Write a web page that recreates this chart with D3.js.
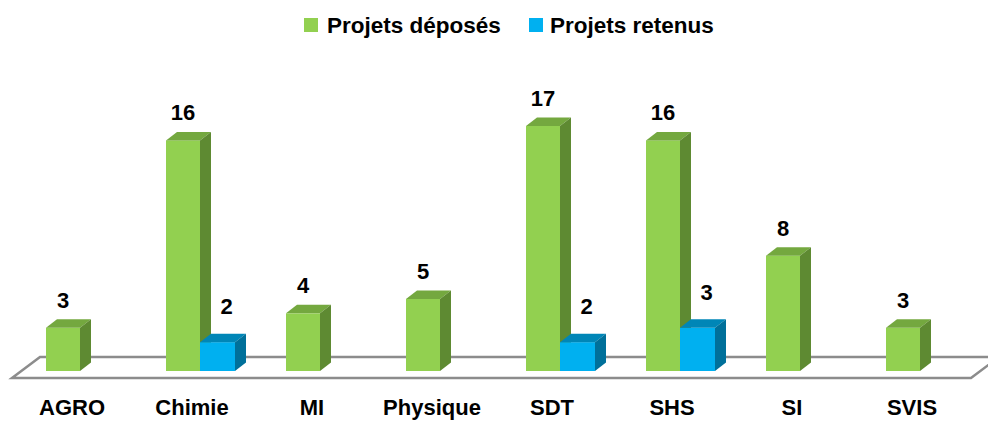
<!DOCTYPE html>
<html><head><meta charset="utf-8">
<script src="https://cdn.jsdelivr.net/npm/d3@7"></script>
<style>html,body{margin:0;padding:0;background:#fff;overflow:hidden}</style>
</head><body>
<svg id="chart" width="988" height="421"></svg>
<script>
const categories = ["AGRO","Chimie","MI","Physique","SDT","SHS","SI","SVIS"];
const deposes = [3,16,4,5,17,16,8,3];
const retenus = [0,2,0,0,2,3,0,0];
const seriesNames = ["Projets déposés","Projets retenus"];

const svg = d3.select("#chart");
const font = "'Liberation Sans', Arial, sans-serif";

const x = d3.scaleBand().domain(categories).range([12, 972]).padding(0);
const y = d3.scaleLinear().domain([0, 17]).range([371, 126]);
const DX = 11, DY = 8.5;

const colors = {
  green: {front:"#92D050", top:"#74A83F", side:"#5E8A32"},
  blue:  {front:"#00B0F0", top:"#0086B7", side:"#00709A"}
};

// floor
svg.append("path")
  .attr("d", "M12,378 L971,378 L999,357 L40,357 Z")
  .attr("fill", "none").attr("stroke", "#8c8c8c").attr("stroke-width", 2.5)
  .attr("stroke-linejoin", "miter");

function bar3d(g, x0, w, v, c) {
  const yt = y(v), yb = y(0);
  g.append("rect").attr("x", x0).attr("y", yt).attr("width", w).attr("height", yb - yt).attr("fill", c.front);
  g.append("path").attr("d", `M${x0},${yt} L${x0+DX},${yt-DY} L${x0+w+DX},${yt-DY} L${x0+w},${yt} Z`).attr("fill", c.top);
  g.append("path").attr("d", `M${x0+w},${yt} L${x0+w+DX},${yt-DY} L${x0+w+DX},${yb-DY} L${x0+w},${yb} Z`).attr("fill", c.side);
}

const bars = svg.append("g");
const labels = svg.append("g").attr("font-family", font).attr("font-weight", "bold").attr("font-size", 22).attr("fill", "#000").attr("text-anchor", "middle");

categories.forEach((cat, i) => {
  const c = x(cat) + x.bandwidth() / 2;
  const g = bars.append("g");
  const gx = c - 26, gw = 34;
  const bx = c + 8, bw = 35;
  bar3d(g, gx, gw, deposes[i], colors.green);
  labels.append("text").attr("x", gx + gw / 2).attr("y", y(deposes[i]) - 20).text(deposes[i]);
  if (retenus[i] > 0) {
    bar3d(g, bx, bw, retenus[i], colors.blue);
    labels.append("text").attr("x", bx + bw / 2 + 9).attr("y", y(retenus[i]) - 28).text(retenus[i]);
  }
});

// category axis labels
const axis = d3.axisBottom(x).tickSize(0).tickPadding(0);
const ax = svg.append("g").attr("transform", "translate(0,399.5)").call(axis);
ax.select(".domain").remove();
ax.selectAll("text").attr("font-family", font).attr("font-weight", "bold").attr("font-size", 22).attr("fill", "#000").attr("dy", "0.71em");

// legend
const legend = svg.append("g").attr("font-family", font).attr("font-weight", "bold").attr("font-size", 22.5);
const legItems = [
  {name: seriesNames[0], color: colors.green.front, sx: 304, tx: 327},
  {name: seriesNames[1], color: colors.blue.front, sx: 529, tx: 550}
];
legItems.forEach(d => {
  legend.append("rect").attr("x", d.sx).attr("y", 18).attr("width", 14).attr("height", 14).attr("fill", d.color);
  legend.append("text").attr("x", d.tx).attr("y", 32.5).attr("fill", "#000").text(d.name);
});
</script>
</body></html>
